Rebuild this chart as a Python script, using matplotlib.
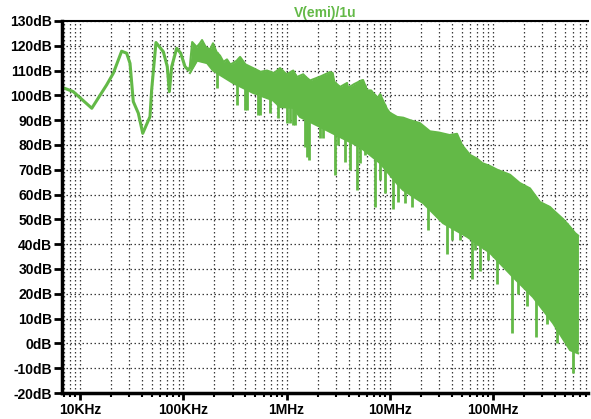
import numpy as np
import matplotlib.pyplot as plt
from matplotlib.ticker import FixedLocator, NullFormatter, LogLocator

# smooth low-frequency part of the spectrum (Hz, dB)
lf_freq = [6.65e3, 8.6e3, 13.0e3, 18.1e3, 21.0e3, 25.3e3, 28.3e3, 30.5e3, 32.8e3,
           36.7e3, 40.5e3, 47.6e3, 49.4e3, 54.4e3, 64.1e3, 70.0e3, 73.3e3, 77.3e3,
           86.3e3, 94.4e3, 104e3, 112e3, 121e3]
lf_db = [103.3, 101.5, 94.8, 104.2, 108.9, 117.8, 117.0, 112.9, 97.5,
         92.8, 84.7, 91.4, 102.2, 121.3, 117.6, 111.6, 101.5, 111.6,
         119.0, 117.0, 111.6, 110.2, 112.3]

# noisy band above ~120kHz: upper and lower edge
top_freq = [116e3, 122e3, 135e3, 145e3, 152e3, 165e3, 182e3, 194e3, 210e3, 227e3,
            245e3, 265e3, 285e3, 303e3, 330e3, 355e3, 400e3, 474e3, 560e3, 647e3,
            760e3, 865e3, 1.0e6, 1.16e6, 1.26e6, 1.45e6, 1.58e6, 1.69e6, 2.1e6,
            2.64e6, 2.8e6, 2.9e6, 3.30e6, 3.86e6, 3.95e6, 4.5e6, 5.3e6, 5.51e6,
            6.03e6, 6.6e6, 6.89e6, 7.69e6, 8.05e6, 9.40e6, 10.0e6, 11.8e6, 13.5e6,
            15.7e6, 19.6e6, 24.5e6, 30e6, 38e6, 44.8e6, 50e6, 59.8e6, 70e6, 78.5e6,
            93.5e6, 110e6, 146e6, 181e6, 228e6, 285e6, 356e6, 381e6, 480e6, 557e6,
            623e6, 666e6]
top_db = [112, 121.5, 119.5, 121, 122.3, 119.5, 118.5, 121, 117.5, 116,
          113.5, 114.5, 112.5, 113, 114, 115.5, 112.5, 111, 109.5, 110,
          109, 111, 108.5, 110, 107.4, 108.5, 107, 106, 107.5,
          109.4, 109, 105.5, 103.4, 105, 103, 104.5, 106, 106.2,
          102, 102, 101, 99, 100.5, 94.5, 93, 91.3, 91,
          90, 88.8, 85.5, 85, 84, 84.5, 80, 76, 74.5, 72.7,
          71.5, 70, 68, 64.7, 62.5, 57, 55, 53.8, 50, 47,
          44.5, 43.5]
bot_freq = [116e3, 136e3, 170e3, 194e3, 303e3, 474e3, 740e3, 865e3, 1.16e6, 1.35e6,
            2.11e6, 3.30e6, 5.15e6, 8.05e6, 10.0e6, 12.0e6, 13.4e6, 21.0e6, 32.8e6,
            56.0e6, 93.5e6, 156e6, 244e6, 381e6, 557e6, 666e6]
bot_db = [109, 114, 113, 110, 105, 101, 98, 95.3, 95, 91.3,
          87.3, 83.2, 79.2, 72.7, 68, 64, 61.9, 56.6, 48.5,
          43, 36.5, 26.8, 18.7, 8.2, -2.7, -4]

# downward spikes below the band (Hz, lowest dB)
spike_freq = [212e3, 332e3, 396e3, 414e3, 530e3, 554e3, 692e3, 827e3, 1.01e6, 1.08e6,
              1.16e6, 1.21e6, 1.51e6, 1.58e6, 1.65e6, 1.89e6, 2.11e6, 2.26e6, 2.95e6,
              3.15e6, 3.69e6, 4.12e6, 4.82e6, 5.15e6, 5.76e6, 7.20e6, 8.05e6, 9.00e6,
              10.8e6, 12.0e6, 14.1e6, 16.4e6, 23.5e6, 28.7e6, 35.8e6, 40.1e6, 47.9e6,
              62.6e6, 67.0e6, 74.8e6, 89.5e6, 109e6, 153e6, 175e6, 214e6, 262e6,
              298e6, 333e6, 417e6, 521e6, 596e6, 651e6]
spike_db = [103, 96, 94, 94, 92, 92, 93, 91, 89, 89,
            88, 88, 79, 75, 74, 89, 83, 82.7, 68,
            80, 73, 70, 62, 72.7, 76, 55, 66, 60.7,
            54, 57, 56.6, 55, 45.7, 51, 36, 41.7, 41.7,
            26, 37.7, 29, 33.6, 24, 4, 20, 15, 2.6,
            17.5, 8, 0, 2.6, -12, -2.5]

xtick_pos = [1e4, 1e5, 1e6, 1e7, 1e8]
xtick_lab = ['10KHz', '100KHz', '1MHz', '10MHz', '100MHz']
ytick_pos = list(range(-20, 131, 10))
ytick_lab = [f'{v}dB' for v in ytick_pos]

green = '#63b947'

plt.rcParams['font.family'] = ['Liberation Sans', 'DejaVu Sans']
fig = plt.figure(figsize=(5.91, 4.19), dpi=100)
ax = fig.add_axes([0.105, 0.062, 0.89, 0.888])

ax.plot(lf_freq, lf_db, color=green, lw=2.2, solid_joinstyle='round')

# band: fill between the edges on a common grid of the read frequencies
band_f = np.unique(np.concatenate([top_freq, bot_freq]))
lt = np.interp(np.log10(band_f), np.log10(top_freq), top_db)
lb = np.interp(np.log10(band_f), np.log10(bot_freq), bot_db)
ax.fill_between(band_f, lb, lt, color=green, lw=0)
ax.plot(top_freq, top_db, color=green, lw=1.5)
ax.plot(bot_freq, bot_db, color=green, lw=1.5)

sp_top = np.interp(np.log10(spike_freq), np.log10(top_freq), top_db)
ax.vlines(spike_freq, spike_db, sp_top, color=green, lw=2)

ax.set_xscale('log')
ax.set_xlim(6.70e3, 832e6)
ax.set_ylim(-20, 130)

ax.xaxis.set_major_locator(FixedLocator(xtick_pos))
ax.set_xticklabels(xtick_lab)
ax.xaxis.set_minor_locator(LogLocator(base=10, subs=np.arange(2, 10)))
ax.xaxis.set_minor_formatter(NullFormatter())
ax.set_yticks(ytick_pos)
ax.set_yticklabels(ytick_lab)

for lab in ax.get_xticklabels() + ax.get_yticklabels():
    lab.set_fontweight('bold')
    lab.set_fontsize(10)

ax.tick_params(axis='y', direction='out', length=6, width=2, pad=1)
ax.tick_params(axis='x', which='major', direction='out', length=5, width=2, pad=2)
ax.tick_params(axis='x', which='minor', direction='out', length=3, width=1.5)

ax.grid(True, which='both', axis='x', color='#3a3a3a', lw=0.9, ls=(0, (1.2, 2)))
ax.grid(True, which='major', axis='y', color='#3a3a3a', lw=0.9, ls=(0, (1.2, 2)))
ax.set_axisbelow(True)

ax.spines['left'].set_linewidth(2.5)
ax.spines['bottom'].set_linewidth(2.5)
ax.spines['top'].set_linewidth(1.5)
ax.spines['right'].set_visible(False)

ax.set_title('V(emi)/1u', color=green, fontsize=10, fontweight='bold', pad=3)

fig.savefig('out.png', dpi=100)
